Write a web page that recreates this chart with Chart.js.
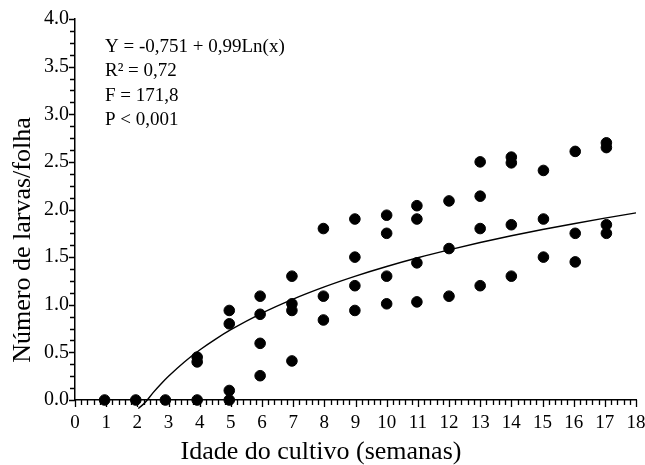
<!DOCTYPE html>
<html>
<head>
<meta charset="utf-8">
<script src="https://cdn.jsdelivr.net/npm/chart.js@4.4.1/dist/chart.umd.min.js"></script>
<style>
  html, body { margin: 0; padding: 0; background: #ffffff; }
  #wrap { width: 645px; height: 465px; }
</style>
</head>
<body>
<div id="wrap"><canvas id="c" width="645" height="465"></canvas></div>
<script>
const pointWeeks = [
  0.95, 1.95, 2.9,
  3.92, 3.92, 3.92,
  4.95, 4.95, 4.95, 4.95,
  5.94, 5.94, 5.94, 5.94,
  6.96, 6.96, 6.96, 6.96,
  7.97, 7.97, 7.97,
  8.98, 8.98, 8.98, 8.98,
  10, 10, 10, 10,
  10.97, 10.97, 10.97, 10.97,
  12, 12, 12,
  13, 13, 13, 13,
  14, 14, 14, 14,
  15.03, 15.03, 15.03,
  16.05, 16.05, 16.05,
  17.05, 17.05, 17.05, 17.05
];
const pointLarvae = [
  0, 0, 0,
  0, 0.40, 0.45,
  0, 0.10, 0.80, 0.94,
  0.255, 0.595, 0.90, 1.09,
  0.41, 0.94, 1.01, 1.30,
  0.84, 1.09, 1.80,
  0.94, 1.20, 1.50, 1.90,
  1.01, 1.30, 1.75, 1.94,
  1.03, 1.44, 1.90, 2.04,
  1.09, 1.59, 2.09,
  1.20, 1.80, 2.14, 2.50,
  1.30, 1.84, 2.49, 2.55,
  1.50, 1.90, 2.41,
  1.45, 1.75, 2.61,
  1.75, 1.84, 2.65, 2.70
];
// Fitted curve as drawn in the figure
const curveWeeks = [2.03, 2.25, 2.5, 2.75, 3, 3.5, 4, 4.5, 5, 6, 7, 8, 9, 10, 11, 12, 13, 14, 15, 16, 17, 18];
const curveLarvae = [-0.09, -0.026, 0.075, 0.166, 0.249, 0.397, 0.525, 0.637, 0.738, 0.913, 1.060, 1.188, 1.301, 1.402, 1.493, 1.576, 1.653, 1.724, 1.790, 1.851, 1.909, 1.964];

const xTitle = 'Idade do cultivo (semanas)';
const yTitle = 'Número de larvas/folha';
const statsLines = ['Y = -0,751 + 0,99Ln(x)', 'R² = 0,72', 'F = 171,8', 'P < 0,001'];

const FONT = '"Liberation Serif", "Times New Roman", serif';

const scatterData = pointWeeks.map((x, i) => ({ x: x, y: pointLarvae[i] }));
const curveData = curveWeeks.map((x, i) => ({ x: x, y: curveLarvae[i] }));

const isInt = v => Math.abs(v - Math.round(v)) < 1e-6;
const isHalf = v => Math.abs(v * 2 - Math.round(v * 2)) < 1e-6;

const tickPlugin = {
  id: 'customTicks',
  afterDraw(chart) {
    const ctx = chart.ctx;
    const xs = chart.scales.x, ys = chart.scales.y;
    const area = chart.chartArea;
    ctx.save();
    ctx.strokeStyle = '#000';
    ctx.lineWidth = 1.3;
    ctx.beginPath();
    xs.ticks.forEach(t => {
      const px = Math.round(xs.getPixelForValue(t.value)) + 0.5;
      const len = isInt(t.value) ? 7 : 5;
      ctx.moveTo(px, area.bottom);
      ctx.lineTo(px, area.bottom + len);
    });
    ys.ticks.forEach(t => {
      const py = Math.round(ys.getPixelForValue(t.value)) + 0.5;
      const len = isHalf(t.value) ? 6 : 5;
      ctx.moveTo(area.left, py);
      ctx.lineTo(area.left - len, py);
    });
    ctx.stroke();
    ctx.fillStyle = '#000';
    ctx.textBaseline = 'middle';
    // statistics text
    ctx.font = '19px ' + FONT;
    ctx.textAlign = 'left';
    statsLines.forEach((s, i) => {
      ctx.fillText(s, area.left + 30, area.top + 28 + i * 24.5);
    });
    // axis titles
    ctx.font = '26px ' + FONT;
    ctx.textAlign = 'center';
    ctx.fillText(xTitle, 321, 452);
    ctx.save();
    ctx.translate(23, 240);
    ctx.rotate(-Math.PI / 2);
    ctx.fillText(yTitle, 0, 0);
    ctx.restore();
    ctx.restore();
  }
};

new Chart(document.getElementById('c'), {
  type: 'scatter',
  data: {
    datasets: [
      {
        label: 'observado',
        data: scatterData,
        backgroundColor: '#000',
        borderColor: '#000',
        pointRadius: 5.3,
        pointHoverRadius: 5.3,
        clip: false
      },
      {
        label: 'ajuste',
        type: 'line',
        data: curveData,
        borderColor: '#000',
        borderWidth: 1.4,
        pointRadius: 0,
        fill: false,
        cubicInterpolationMode: 'monotone',
        clip: false
      }
    ]
  },
  options: {
    responsive: false,
    animation: false,
    devicePixelRatio: 1,
    layout: { padding: { top: 19, right: 9, left: 0, bottom: 0 } },
    plugins: { legend: { display: false }, tooltip: { enabled: false } },
    scales: {
      x: {
        type: 'linear',
        min: 0, max: 18,
        afterFit(s) { s.height = 65; s.paddingLeft = 0; s.paddingRight = 0; },
        border: { display: true, color: '#000', width: 1.5 },
        grid: { display: true, drawOnChartArea: false, drawTicks: false, color: 'rgba(0,0,0,0)' },
        ticks: {
          stepSize: 0.2,
          autoSkip: false,
          maxRotation: 0,
          padding: 12,
          color: '#000',
          font: { family: FONT, size: 19 },
          callback: v => isInt(v) ? String(Math.round(v)) : ''
        },
        title: { display: false }
      },
      y: {
        type: 'linear',
        min: 0, max: 4,
        afterFit(s) { s.width = 75; s.paddingTop = 0; s.paddingBottom = 0; },
        border: { display: true, color: '#000', width: 1.5 },
        grid: { display: true, drawOnChartArea: false, drawTicks: false, color: 'rgba(0,0,0,0)' },
        ticks: {
          stepSize: 0.125,
          autoSkip: false,
          padding: 6,
          color: '#000',
          font: { family: FONT, size: 20 },
          callback: v => isHalf(v) ? v.toFixed(1) : ''
        },
        title: { display: false }
      }
    }
  },
  plugins: [tickPlugin]
});
</script>
</body>
</html>
